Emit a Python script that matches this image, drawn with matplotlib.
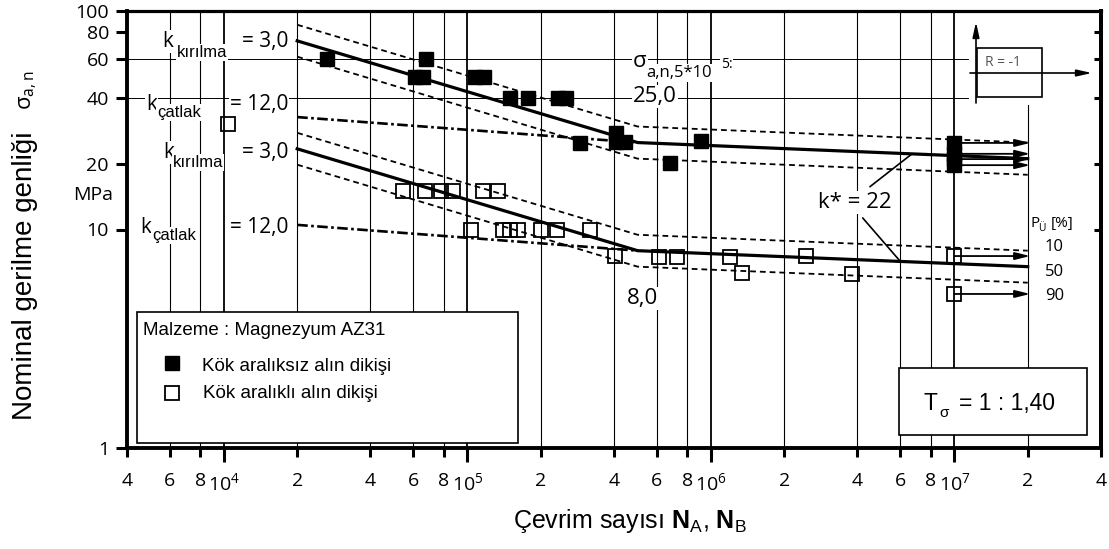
import matplotlib
matplotlib.use("Agg")
from matplotlib import pyplot as plt
from matplotlib.patches import Rectangle
from matplotlib.ticker import NullLocator

W, H = 1109, 549

# S-N curve nodes (number of cycles) and stress amplitudes in MPa
N_NODES = [2e4, 5e5, 2e7]
N_CRACK = [2e4, 5e5]

upper_p50 = [73.0, 25.0, 21.1]
upper_p10 = [86.5, 29.6, 25.0]
upper_p90 = [61.8, 21.1, 17.8]
upper_crack = [32.7, 25.0]

lower_p50 = [23.4, 8.0, 6.76]
lower_p10 = [27.7, 9.46, 8.0]
lower_p90 = [19.8, 6.76, 5.71]
lower_crack = [10.5, 8.0]

# Kök aralıksız alın dikişi (filled squares)
solid_n = [2.65e4, 6.12e4, 6.6e4, 6.77e4, 1.07e5, 1.17e5, 1.50e5, 1.77e5,
           2.36e5, 2.54e5, 2.90e5, 4.07e5, 4.07e5, 4.43e5, 9.1e5, 6.8e5]
solid_s = [60, 50, 50, 60, 50, 50, 40, 40,
           40, 40, 25, 27.7, 25.2, 25.2, 25.4, 20.1]
solid_runout_n = [1e7, 1e7, 1e7, 1e7]
solid_runout_s = [24.9, 22.2, 21.0, 19.7]

# Kök aralıklı alın dikişi (open squares)
open_n = [1.04e4, 5.43e4, 6.7e4, 7.8e4, 8.73e4, 1.16e5, 1.34e5,
          1.03e5, 1.40e5, 1.50e5, 1.62e5, 2.0e5, 2.33e5, 3.18e5,
          4.03e5, 6.1e5, 7.26e5, 1.2e6, 1.34e6, 2.45e6, 3.79e6]
open_s = [30.4, 15, 15, 15, 15, 15, 15,
          10, 10, 10, 10, 10, 10, 10,
          7.56, 7.48, 7.48, 7.5, 6.32, 7.56, 6.25]
open_runout_n = [1e7, 1e7]
open_runout_s = [7.56, 5.07]

RUNOUT_END = 2.05e7

x_major = [1e4, 1e5, 1e6, 1e7]
x_major_labels = [r"10$^{4}$", r"10$^{5}$", r"10$^{6}$", r"10$^{7}$"]
x_minor = [4e3, 6e3, 8e3, 2e4, 4e4, 6e4, 8e4, 2e5, 4e5, 6e5, 8e5,
           2e6, 4e6, 6e6, 8e6, 2e7, 4e7]
x_minor_labels = ["4", "6", "8", "2", "4", "6", "8", "2", "4", "6", "8",
                  "2", "4", "6", "8", "2", "4"]
x_grid = [6e3, 8e3, 1e4, 2e4, 4e4, 6e4, 8e4, 1e5, 2e5, 4e5, 6e5, 8e5,
          1e6, 2e6, 4e6, 6e6, 8e6, 1e7, 2e7]
y_ticks = [1, 10, 20, 40, 60, 80, 100]
y_tick_labels = ["1", "10", "20", "40", "60", "80", "100"]

LIGHT = ["Open Sans", "DejaVu Sans"]
ARIAL = ["Liberation Sans", "DejaVu Sans"]

plt.rcParams["font.family"] = LIGHT
plt.rcParams["mathtext.fontset"] = "custom"
plt.rcParams["mathtext.rm"] = "Open Sans"
plt.rcParams["mathtext.it"] = "Open Sans:italic"
plt.rcParams["mathtext.sf"] = "Liberation Sans"
plt.rcParams["mathtext.bf"] = "Liberation Sans:bold"


def F(px, py):
    # pixel position (from top left) -> figure fraction
    return px / W, 1 - py / H


def A(px, py):
    # pixel position -> axes fraction
    return (px - 127) / 974, (448 - py) / 437


fig = plt.figure(figsize=(W / 100, H / 100), dpi=100)
ax = fig.add_axes([127 / W, (H - 448) / H, 974 / W, 437 / H])
ax.set_xscale("log")
ax.set_yscale("log")
ax.set_xlim(4e3, 4e7)
ax.set_ylim(1, 100)

# grid
for xg in x_grid:
    lw = 1.3 if xg in x_major else 0.8
    top = 0.785 if xg == 2e7 else 1
    ax.axvline(xg, ymax=top, color="k", lw=lw, zorder=0.5)
for yg in [40, 60]:
    ax.axhline(yg, xmax=0.8635, color="k", lw=0.7, zorder=0.5)

# curves
dash = (0, (3.2, 2.2))
dashdot = (0, (4, 1.3, 1, 1.3))
for p10, p50, p90, crack in [(upper_p10, upper_p50, upper_p90, upper_crack),
                             (lower_p10, lower_p50, lower_p90, lower_crack)]:
    ax.plot(N_NODES, p10, color="k", lw=1.3, ls=dash, zorder=2)
    ax.plot(N_NODES, p90, color="k", lw=1.3, ls=dash, zorder=2)
    ax.plot(N_NODES, p50, color="k", lw=2.3, zorder=2.5)
    ax.plot(N_CRACK, crack, color="k", lw=1.9, ls=dashdot, zorder=2)

# runout arrows
arrow = dict(arrowstyle="-|>,head_length=0.9,head_width=0.22", lw=1.3,
             color="k", shrinkA=0, shrinkB=0)
for n, s in zip(solid_runout_n + open_runout_n, solid_runout_s + open_runout_s):
    ax.annotate("", xy=(RUNOUT_END, s), xytext=(n, s), arrowprops=arrow, zorder=3)

# data points
ax.plot(solid_n + solid_runout_n, solid_s + solid_runout_s, ls="none",
        marker="s", ms=9.5, mfc="k", mec="k", zorder=4)
ax.plot(open_n + open_runout_n, open_s + open_runout_s, ls="none",
        marker="s", ms=9.5, mfc="none", mec="k", mew=1.3, zorder=4)

# axes styling
for sp in ax.spines.values():
    sp.set_linewidth(2.8)
ax.spines["top"].set_linewidth(2.3)

ax.set_xticks(x_major, labels=x_major_labels)
ax.set_xticks(x_minor, labels=x_minor_labels, minor=True)
ax.tick_params(axis="x", which="major", direction="out", length=10, width=2.2,
               pad=7.5, labelsize=14)
ax.tick_params(axis="x", which="minor", direction="out", length=6.5, width=2.2,
               pad=11, labelsize=14)
ax.set_yticks(y_ticks, labels=y_tick_labels)
ax.yaxis.set_minor_locator(NullLocator())
ax.tick_params(axis="y", direction="out", length=8, width=2.2, pad=5, labelsize=14)

sec = ax.secondary_yaxis("right")
sec.set_yticks([10, 20, 40, 60, 80])
sec.set_yticklabels([])
sec.yaxis.set_minor_locator(NullLocator())
sec.tick_params(direction="in", length=5, width=2.2)
sec.spines["right"].set_linewidth(2.8)

# boxes
ax.add_patch(Rectangle(A(137, 443), 381 / 974, 131 / 437, transform=ax.transAxes,
                       fc="white", ec="k", lw=1.2, zorder=6))
ax.add_patch(Rectangle(A(899, 435), 188 / 974, 67 / 437, transform=ax.transAxes,
                       fc="white", ec="k", lw=1.2, zorder=6))
ax.add_patch(Rectangle(A(977, 97), 65 / 974, 49 / 437, transform=ax.transAxes,
                       fc="white", ec="k", lw=1.2, zorder=6))
small_arrow = dict(arrowstyle="-|>,head_length=0.9,head_width=0.2", lw=1.2,
                   color="k", shrinkA=0, shrinkB=0)
ax.annotate("", xy=A(976, 22), xytext=A(976, 103), xycoords="axes fraction",
            arrowprops=small_arrow, zorder=7)
ax.annotate("", xy=A(1092, 73), xytext=A(970, 73), xycoords="axes fraction",
            arrowprops=small_arrow, zorder=7)

# legend symbols
ax.plot(*A(172, 363), marker="s", ms=9.5, mfc="k", mec="k",
        transform=ax.transAxes, clip_on=False, zorder=7)
ax.plot(*A(172, 393), marker="s", ms=9.5, mfc="white", mec="k", mew=1.3,
        transform=ax.transAxes, clip_on=False, zorder=7)

# k* leader lines
lead = dict(arrowstyle="-", lw=1.2, color="k", shrinkA=0, shrinkB=0)
ax.annotate("", xy=(6.7e6, 22.2), xytext=(4.5e6, 15.7), arrowprops=lead, zorder=3)
ax.annotate("", xy=(6.0e6, 7.14), xytext=(4.2e6, 11.3), arrowprops=lead, zorder=3)


def txt(px, py, s, size, family=LIGHT, ha="left", va="baseline", bg=True, **kw):
    box = dict(fc="white", ec="none", pad=0.6) if bg else None
    fig.text(*F(px, py), s, fontsize=size, family=family, ha=ha, va=va,
             bbox=box, zorder=8, **kw)


# k labels
for kx, base, sub, subx, subbase, val in [
        (162, 47, "kırılma", 177, 57, "= 3,0"),
        (146, 110, "çatlak", 157, 117, "= 12,0"),
        (163, 158, "kırılma", 173, 167, "= 3,0"),
        (140, 233, "çatlak", 152, 240, "= 12,0")]:
    txt(kx, base, "k", 15)
    txt(subx, subbase, sub, 12, family=ARIAL)
    txt(288, base, val, 15, ha="right")

txt(633, 67, "σ", 16)
txt(646, 77, "a,n,5*10", 12)
txt(721, 68, "5:", 10)
txt(633, 102, "25,0", 16)
txt(627, 304, "8,0", 16)
txt(818, 208, "k* = 22", 16)

txt(1030, 227, "P", 11, bg=False)
txt(1038, 231, "Ü", 7.5, bg=False)
txt(1051, 227, "[%]", 11, bg=False)
txt(1045, 251, "10", 12, bg=False)
txt(1045, 276, "50", 12, bg=False)
txt(1045, 300, "90", 12, bg=False)

txt(985, 66, "R = -1", 10, bg=False, color="#555555")

txt(923, 410, "T", 16.5, family=ARIAL, bg=False)
txt(939, 417, "σ", 11, family=ARIAL, bg=False)
txt(959, 410, "= 1 : 1,40", 16.5, family=ARIAL, bg=False)

txt(143, 335, "Malzeme : Magnezyum AZ31", 13.5, family=ARIAL, bg=False)
txt(202, 371, "Kök aralıksız alın dikişi", 13.5, family=ARIAL, bg=False)
txt(203, 398, "Kök aralıklı alın dikişi", 13.5, family=ARIAL, bg=False)

txt(113, 200, "MPa", 14, ha="right", bg=False)

# axis titles
txt(630, 528, r"Çevrim sayısı $\mathbf{N}_{\mathsf{A}}$, $\mathbf{N}_{\mathsf{B}}$",
    18, family=ARIAL, ha="center", bg=False)
txt(25, 420, "Nominal gerilme genliği", 20, family=ARIAL, ha="center",
    va="bottom", bg=False, rotation=90)
txt(28, 110, r"$\mathrm{σ}_{\mathrm{a,n}}$", 16, ha="center", va="bottom",
    bg=False, rotation=90)

fig.savefig("out.png", dpi=100)
